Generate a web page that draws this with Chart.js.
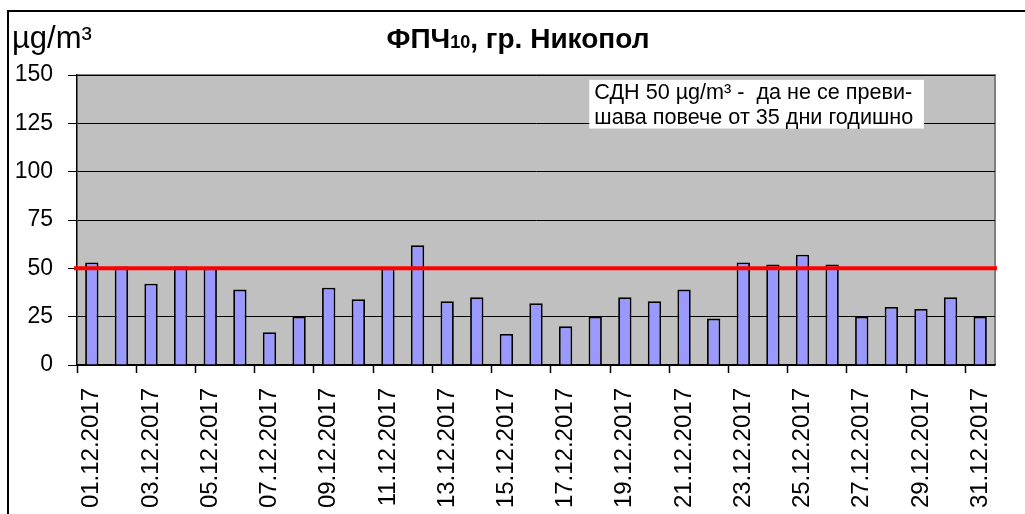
<!DOCTYPE html>
<html lang="bg">
<head>
  <meta charset="UTF-8" />
  <title>ФПЧ10, гр. Никопол</title>
  <script src="https://cdn.jsdelivr.net/npm/chart.js"></script>
  <style>
    html, body { margin: 0; padding: 0; background: #fff; overflow: hidden; }
    #wrap { width: 1025px; height: 514px; }
  </style>
</head>
<body>
  <div id="wrap"><canvas id="pmChart"></canvas></div>

  <script>
    // дни за декември 2017
    const days = [
      "01.12.2017", "02.12.2017", "03.12.2017", "04.12.2017", "05.12.2017", "06.12.2017",
      "07.12.2017", "08.12.2017", "09.12.2017", "10.12.2017", "11.12.2017", "12.12.2017",
      "13.12.2017", "14.12.2017", "15.12.2017", "16.12.2017", "17.12.2017", "18.12.2017",
      "19.12.2017", "20.12.2017", "21.12.2017", "22.12.2017", "23.12.2017", "24.12.2017",
      "25.12.2017", "26.12.2017", "27.12.2017", "28.12.2017", "29.12.2017", "30.12.2017",
      "31.12.2017"
    ];

    // ФПЧ10, µg/m³
    const pm10 = [
      53, 51, 42, 51, 50, 39, 17, 25, 40, 34, 50, 62, 33, 35, 16, 32,
      20, 25, 35, 33, 39, 24, 53, 52, 57, 52, 25, 30, 29, 35, 25
    ];

    const yTicks = [0, 25, 50, 75, 100, 125, 150];
    const limitValue = 50;   // СДН
    const limitNote = ["СДН 50 µg/m³ -  да не се преви-", "шава повече от 35 дни годишно"];

    const FONT = "Arial, 'Liberation Sans', sans-serif";

    const decor = {
      id: "decor",
      beforeDraw(chart) {
        const { ctx, chartArea: a } = chart;
        ctx.save();
        ctx.fillStyle = "#fff";
        ctx.fillRect(0, 0, chart.width, chart.height);
        // outer frame
        ctx.strokeStyle = "#000";
        ctx.lineWidth = 2;
        ctx.strokeRect(8, 11, chart.width + 20, chart.height + 20);
        // plot background
        ctx.fillStyle = "#C0C0C0";
        ctx.fillRect(a.left, a.top, a.right - a.left, a.bottom - a.top);
        ctx.strokeStyle = "#808080";
        ctx.lineWidth = 2;
        ctx.beginPath();
        ctx.moveTo(a.left, a.top);
        ctx.lineTo(a.right, a.top);
        ctx.lineTo(a.right, a.bottom);
        ctx.stroke();

        // unit
        ctx.fillStyle = "#000";
        ctx.textBaseline = "alphabetic";
        ctx.textAlign = "left";
        ctx.font = "31px " + FONT;
        ctx.fillText("µg/m³", 12, 48);

        // title with small "10"
        const p1 = "ФПЧ", p2 = "10", p3 = ", гр. Никопол";
        const big = "bold 28px " + FONT, small = "bold 18px " + FONT;
        ctx.font = big; const w1 = ctx.measureText(p1).width, w3 = ctx.measureText(p3).width;
        ctx.font = small; const w2 = ctx.measureText(p2).width;
        let x = 518 - (w1 + w2 + w3) / 2;
        ctx.font = big; ctx.fillText(p1, x, 48); x += w1;
        ctx.font = small; ctx.fillText(p2, x, 48); x += w2;
        ctx.font = big; ctx.fillText(p3, x, 48);
        ctx.restore();
      },
      afterDatasetsDraw(chart) {
        const { ctx, chartArea: a, scales } = chart;
        const y = scales.y.getPixelForValue(limitValue);
        ctx.save();
        ctx.strokeStyle = "#FF0000";
        ctx.lineWidth = 4;
        ctx.beginPath();
        ctx.moveTo(a.left - 3, y);
        ctx.lineTo(a.right + 2, y);
        ctx.stroke();

        // note box
        const bx = scales.x.getPixelForValue(16.8), bx2 = scales.x.getPixelForValue(28.1);
        const by = scales.y.getPixelForValue(147.5), by2 = scales.y.getPixelForValue(122.3);
        ctx.fillStyle = "#fff";
        ctx.fillRect(bx, by, bx2 - bx, by2 - by);
        ctx.fillStyle = "#000";
        ctx.font = "21.6px " + FONT;
        ctx.textAlign = "left";
        ctx.textBaseline = "alphabetic";
        ctx.fillText(limitNote[0], bx + 5, by + 19);
        ctx.fillText(limitNote[1], bx + 5, by + 44);
        ctx.restore();
      }
    };

    new Chart(document.getElementById("pmChart"), {
      type: "bar",
      data: {
        labels: days,
        datasets: [{
          data: pm10,
          backgroundColor: "#9999FF",
          borderColor: "#000",
          borderWidth: 1.8,
          categoryPercentage: 1,
          barPercentage: 0.45
        }]
      },
      options: {
        responsive: true,
        maintainAspectRatio: false,
        animation: false,
        layout: { padding: { top: 75, right: 30, left: 0, bottom: 0 } },
        plugins: { legend: { display: false }, tooltip: { enabled: false }, title: { display: false } },
        scales: {
          x: {
            offset: true,
            afterFit(s) { s.height = 149; },
            grid: {
              offset: true,
              drawOnChartArea: false,
              tickLength: 8,
              tickWidth: 1.5,
              tickColor: c => (c.index % 2 === 0 ? "#000" : "rgba(0,0,0,0)")
            },
            border: { color: "#000", width: 1.5 },
            ticks: {
              autoSkip: false,
              minRotation: 90,
              maxRotation: 90,
              padding: 15,
              color: "#000",
              font: { family: FONT, size: 24 },
              callback(v, i) { return i % 2 === 0 ? days[i] : ""; }
            }
          },
          y: {
            min: 0,
            max: 150,
            afterFit(s) { s.width = 77; },
            afterBuildTicks(s) { s.ticks = yTicks.map(v => ({ value: v })); },
            grid: { color: "#000", lineWidth: 1, tickLength: 9 },
            border: { color: "#000", width: 1.5 },
            ticks: {
              padding: 15,
              color: "#000",
              font: { family: FONT, size: 23 }
            }
          }
        }
      },
      plugins: [decor]
    });
  </script>
</body>
</html>
